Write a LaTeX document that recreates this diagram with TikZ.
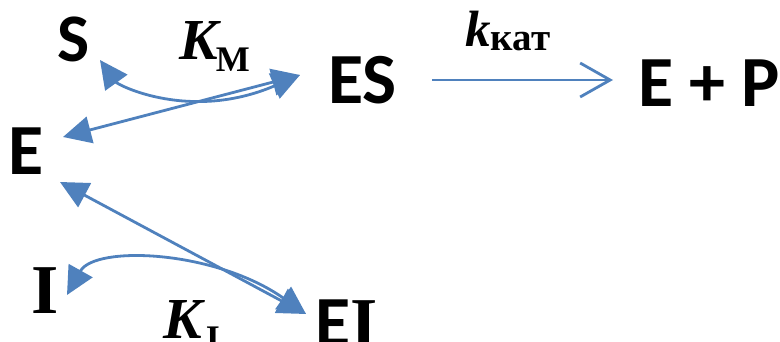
\documentclass[tikz,border=0pt]{standalone}
\usepackage{fontspec}
\setmainfont{Liberation Serif}
\newfontfamily\carl{Carlito}
\usetikzlibrary{arrows.meta}
\definecolor{linkblue}{HTML}{4F81BD}
\tikzset{
  species/.style={inner sep=0pt, anchor=base west, font=\carl\bfseries\fontsize{72}{72}\selectfont},
  rate/.style={inner sep=0pt, anchor=base west},
  link/.style={draw=linkblue, line width=2.8pt,
    {Triangle[length=28pt,width=27pt]}-{Triangle[length=28pt,width=27pt]}},
  forward/.style={draw=linkblue, line width=2.8pt, -{Straight Barb[length=30pt,width=34pt]}}
}
\begin{document}
\begin{tikzpicture}[x=1pt,y=-1pt]
  \useasboundingbox (0,0) rectangle (780,342);

  % species
  \node[species, font=\carl\bfseries\fontsize{68}{68}\selectfont] (S) at (57,62) {S};
  \node[species] (E) at (8,175) {E};
  \node[species] (ES) at (328,104) {ES};
  \node[species] (EP) at (638,107) {E + P};
  \node[species, font=\bfseries\fontsize{70}{70}\selectfont] (I) at (31,313) {I};
  \node[species] (EI) at (315,346) {E{\rmfamily\fontsize{70}{70}\selectfont I}};

  % constants
  \node[rate] (KM) at (179,60) {\fontsize{58}{58}\selectfont\bfseries\itshape K\kern-2pt\raisebox{-12pt}{\upshape\fontsize{36}{36}\selectfont M}};
  \node[rate] (KI) at (163,338) {\fontsize{58}{58}\selectfont\bfseries\itshape K\kern4pt\raisebox{-12pt}{\upshape\fontsize{36}{36}\selectfont I}};
  \node[rate] (kcat) at (465,47) {\fontsize{51}{51}\selectfont\bfseries\itshape k\raisebox{-4pt}{\upshape\fontsize{39}{39}\selectfont кат}};

  % arrow ends
  \coordinate (sTip) at (100,60);
  \coordinate (eTopTip) at (63,137);
  \coordinate (esTip) at (300,75);
  \coordinate (eLowTip) at (60,182);
  \coordinate (iTip) at (67,295);
  \coordinate (eiTip) at (306,314);
  \coordinate (esOut) at (432,80);
  \coordinate (epIn) at (613,80);

  % binding of S
  \draw[link] (sTip) .. controls (118,85) and (190,122) .. (esTip);
  \draw[link] (eTopTip) -- (esTip);
  % binding of I
  \draw[link] (eLowTip) -- (eiTip);
  \draw[link] (iTip) .. controls (95,245) and (215,250) .. (eiTip);
  % catalytic step
  \draw[forward] (esOut) -- (epIn);
\end{tikzpicture}
\end{document}
